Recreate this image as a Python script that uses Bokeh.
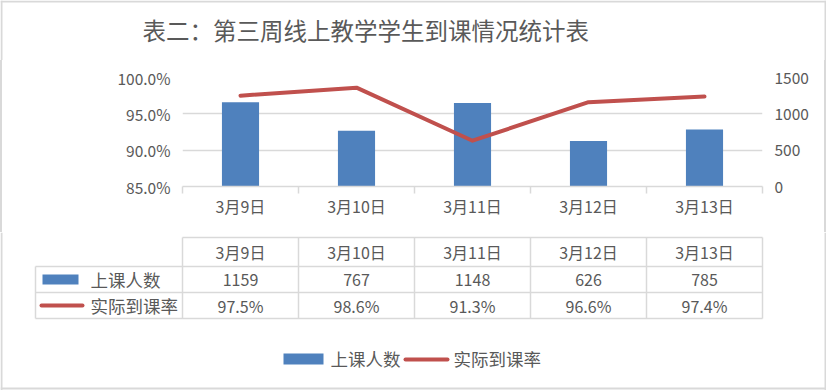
from bokeh.plotting import figure
from bokeh.models import Range1d, LinearAxis, FixedTicker, NumeralTickFormatter
from bokeh.layouts import column
from bokeh.embed import file_html
from bokeh.resources import INLINE
from bokeh.core.properties import value

# ---------------- data ----------------
title_text = "表二：第三周线上教学学生到课情况统计表"
dates = ["3月9日", "3月10日", "3月11日", "3月12日", "3月13日"]
students = [1159, 767, 1148, 626, 785]
rates = [0.975, 0.986, 0.913, 0.966, 0.974]
series_names = ["上课人数", "实际到课率"]
pct_ticks = [0.85, 0.90, 0.95, 1.00]
cnt_ticks = [0, 500, 1000, 1500]

# ---------------- style ----------------
BLUE = "#4F81BD"
RED = "#C0504D"
GRAY = "#D9D9D9"
TXT = "#595959"
FONT_NAME = "Noto Sans CJK SC"
FONT = value(FONT_NAME)

W, H = 826, 390
TITLE_H = 60
CHART_BOTTOM = 232
TOP_H = CHART_BOTTOM - TITLE_H
BOT_H = H - CHART_BOTTOM
BL, BR = 182, 64                 # frame borders (px) of the chart
FRAME_TOP, FRAME_BOTTOM = 77, 186
n = len(dates)
unit = (W - BL - BR) / n         # px per category

xs = [i + 0.5 for i in range(n)]


def ux(px):
    return (px - BL) / unit


# ---------------- title strip ----------------
t = figure(width=W, height=TITLE_H, x_range=Range1d(0, W), y_range=Range1d(TITLE_H, 0),
           output_backend="svg", toolbar_location=None, min_border=0)
t.axis.visible = False
t.grid.visible = False
t.outline_line_color = None
t.text(x=[142], y=[29], text=[title_text], text_align="left", text_baseline="middle",
       text_font=FONT, text_font_size="23.5px", text_color=TXT)
t.segment(x0=[0, 1, W - 1], y0=[1, 0, 0], x1=[W, 1, W - 1], y1=[1, TITLE_H, TITLE_H],
          line_color=GRAY, line_width=2)

# ---------------- chart ----------------
p = figure(width=W, height=TOP_H, x_range=Range1d(0, n), y_range=Range1d(0.85, 1.0),
           output_backend="svg", toolbar_location=None,
           min_border_left=BL, min_border_right=BR,
           min_border_top=FRAME_TOP - TITLE_H, min_border_bottom=CHART_BOTTOM - FRAME_BOTTOM,
           styles={"background-color": "white",
                   "box-shadow": "inset 2px 0 0 #D9D9D9, inset -2px 0 0 #D9D9D9"})
p.outline_line_color = None
p.border_fill_color = None
p.background_fill_color = "white"

p.extra_y_ranges = {"cnt": Range1d(0, 1500)}

p.vbar(x=xs, top=students, width=0.32, bottom=0, y_range_name="cnt",
       fill_color=BLUE, line_color=None)
p.line(x=xs, y=rates, line_width=4, line_color=RED, line_cap="round", line_join="round")


def style_axis(ax, size="15.5px", standoff=12):
    ax.major_label_text_font = FONT_NAME
    ax.major_label_text_font_size = size
    ax.major_label_text_color = TXT
    ax.major_label_standoff = standoff


# left axis
ya = p.yaxis[0]
ya.ticker = FixedTicker(ticks=pct_ticks)
ya.formatter = NumeralTickFormatter(format="0.0%")
ya.axis_line_color = None
ya.major_tick_line_color = None
ya.minor_tick_line_color = None
ya.major_tick_out = 0
ya.minor_tick_out = 0
style_axis(ya)

# right axis
ra = LinearAxis(y_range_name="cnt", ticker=FixedTicker(ticks=cnt_ticks))
ra.axis_line_color = None
ra.major_tick_line_color = None
ra.minor_tick_line_color = None
ra.major_tick_out = 0
ra.minor_tick_out = 0
style_axis(ra)
p.add_layout(ra, "right")

# bottom axis
xa = p.xaxis[0]
xa.ticker = FixedTicker(ticks=xs, minor_ticks=list(range(n + 1)))
xa.major_label_overrides = {x: d for x, d in zip(xs, dates)}
xa.major_tick_line_color = None
xa.major_tick_out = 0
xa.major_tick_in = 0
xa.minor_tick_out = 7
xa.minor_tick_in = 0
xa.minor_tick_line_color = GRAY
xa.minor_tick_line_width = 1.5
xa.axis_line_color = GRAY
xa.axis_line_width = 1.5
style_axis(xa, "16px", 0)

p.xgrid.visible = False
p.ygrid.ticker = FixedTicker(ticks=pct_ticks)
p.ygrid.grid_line_color = GRAY
p.ygrid.grid_line_width = 1.5

# ---------------- data table + legend ----------------
Y0 = CHART_BOTTOM
q = figure(width=W, height=BOT_H,
           x_range=Range1d(-BL / unit, n + BR / unit),
           y_range=Range1d(Y0 + BOT_H, Y0),
           output_backend="svg", toolbar_location=None, min_border=0)
q.axis.visible = False
q.grid.visible = False
q.outline_line_color = None
q.border_fill_color = "white"

left_edge = ux(35)
row_top, row_h1, row_1, row_2 = 237, 266, 292, 318

# horizontal lines
hx0 = [0, left_edge, left_edge, left_edge]
hx1 = [n, n, n, n]
hy = [row_top, row_h1, row_1, row_2]
q.segment(x0=hx0, y0=hy, x1=hx1, y1=hy, line_color=GRAY, line_width=1.5)
# vertical lines
vx = [left_edge] + list(range(n + 1))
vy0 = [row_h1] + [row_top] * (n + 1)
vy1 = [row_2] * (n + 2)
q.segment(x0=vx, y0=vy0, x1=vx, y1=vy1, line_color=GRAY, line_width=1.5)

q.text(x=xs, y=[(row_top + row_h1) / 2] * n, text=dates, text_align="center",
       text_baseline="middle", text_font=FONT, text_font_size="16px", text_color=TXT)
q.text(x=xs, y=[(row_h1 + row_1) / 2] * n, text=[str(s) for s in students],
       text_align="center", text_baseline="middle", text_font=FONT,
       text_font_size="16px", text_color=TXT)
q.text(x=xs, y=[(row_1 + row_2) / 2] * n, text=[f"{r * 100:.1f}%" for r in rates],
       text_align="center", text_baseline="middle", text_font=FONT,
       text_font_size="16px", text_color=TXT)

# legend keys inside the table
q.quad(left=[ux(42)], right=[ux(78)], top=[274], bottom=[284], fill_color=BLUE, line_color=None)
q.line(x=[ux(41), ux(82)], y=[305, 305], line_width=4, line_color=RED, line_cap="round")
q.text(x=[ux(90), ux(90)], y=[(row_h1 + row_1) / 2, (row_1 + row_2) / 2], text=series_names,
       text_align="left", text_baseline="middle", text_font=FONT,
       text_font_size="17.5px", text_color=TXT)

# bottom legend
q.quad(left=[ux(283)], right=[ux(323)], top=[353], bottom=[364], fill_color=BLUE, line_color=None)
q.text(x=[ux(330)], y=[358], text=[series_names[0]], text_align="left", text_baseline="middle",
       text_font=FONT, text_font_size="17.5px", text_color=TXT)
q.line(x=[ux(405), ux(447)], y=[359, 359], line_width=4, line_color=RED, line_cap="round")
q.text(x=[ux(453)], y=[358], text=[series_names[1]], text_align="left", text_baseline="middle",
       text_font=FONT, text_font_size="17.5px", text_color=TXT)

# outer chart border (lower part)
q.segment(x0=[ux(1), ux(W - 1), ux(0)], y0=[Y0, Y0, H - 2],
          x1=[ux(1), ux(W - 1), ux(W)], y1=[H, H, H - 2], line_color=GRAY, line_width=2)

layout = column(column(t), column(p), column(q), spacing=0)
open("out.html", "w").write(file_html(layout, INLINE))
